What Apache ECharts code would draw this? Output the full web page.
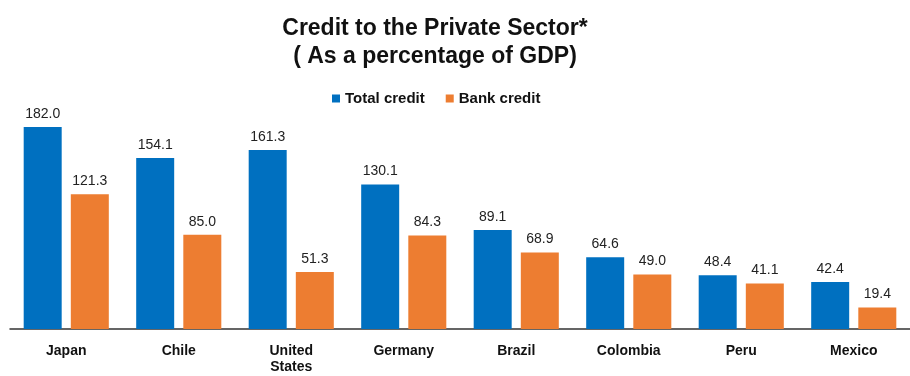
<!DOCTYPE html>
<html><head><meta charset="utf-8">
<script src="https://cdn.jsdelivr.net/npm/echarts@6/dist/echarts.min.js"></script>
<style>html,body{margin:0;padding:0;background:#fff}#c{width:910px;height:376px}</style>
</head><body><div id="c"></div>
<script>
const categories = ["Japan","Chile","United\nStates","Germany","Brazil","Colombia","Peru","Mexico"];
const totalCredit = [182.0,154.1,161.3,130.1,89.1,64.6,48.4,42.4];
const bankCredit = [121.3,85.0,51.3,84.3,68.9,49.0,41.1,19.4];
const chart = echarts.init(document.getElementById('c'));
const lbl = {show:true,position:'top',distance:6,fontFamily:'Liberation Sans',fontSize:14,color:'#222',formatter:p=>p.value.toFixed(1)};
chart.setOption({
  animation:false,
  title:{text:'Credit to the Private Sector*\n( As a percentage of GDP)',left:430,textAlign:'center',top:10,
    textStyle:{fontFamily:'Liberation Sans',fontWeight:'bold',fontSize:23,lineHeight:28,color:'#111'}},
  legend:{top:86,left:327,itemWidth:8,itemHeight:8,itemGap:21,icon:'rect',
    textStyle:{fontFamily:'Liberation Sans',fontWeight:'bold',fontSize:15,color:'#111'}},
  grid:{left:10,right:0,top:107,bottom:47},
  xAxis:{type:'category',data:categories,axisTick:{show:false},
    axisLine:{lineStyle:{color:'#333',width:1.5}},
    axisLabel:{fontFamily:'Liberation Sans',fontWeight:'bold',fontSize:14,color:'#111',margin:14,lineHeight:16}},
  yAxis:{type:'value',min:0,max:200,show:false,splitLine:{show:false}},
  series:[
    {name:'Total credit',type:'bar',data:totalCredit,barWidth:38,barGap:'24%',itemStyle:{color:'#0070C0'},label:lbl},
    {name:'Bank credit',type:'bar',data:bankCredit,barWidth:38,itemStyle:{color:'#ED7D31'},label:lbl}
  ]
});
</script></body></html>
